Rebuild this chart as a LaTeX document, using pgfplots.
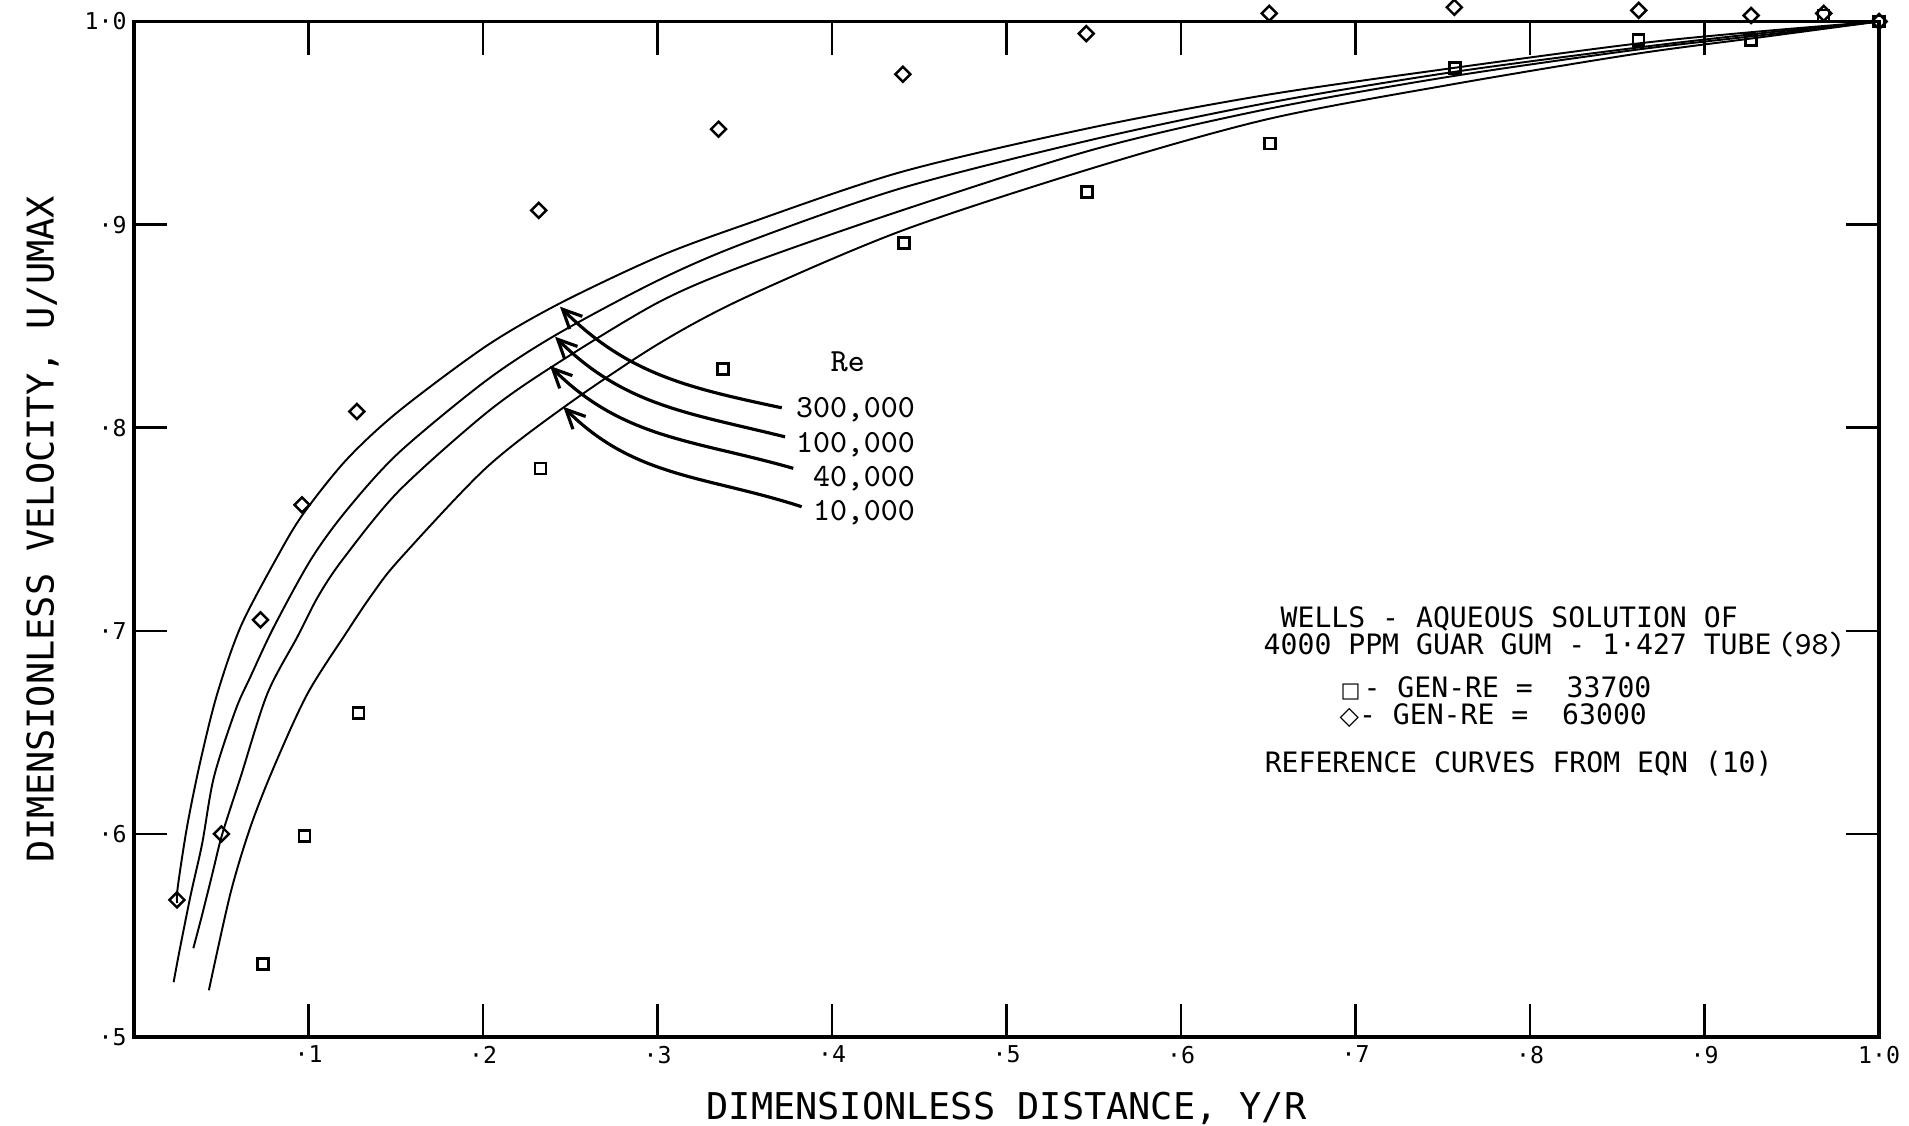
\documentclass[border=0pt]{standalone}
\usepackage{fontspec}
\setmainfont{DejaVu Sans Mono}
\newfontfamily\symfont{DejaVu Sans}
\usepackage{pgfplots}
\pgfplotsset{compat=1.18}
\usetikzlibrary{arrows.meta}
\begin{document}
\begin{tikzpicture}
\begin{axis}[
  at={(0,0)}, anchor=south west,
  scale only axis, width=174.5mm, height=101.55mm,
  xmin=0, xmax=1, ymin=0.5, ymax=1,
  clip=false,
  axis line style={line width=0.9pt},
  major tick length=3.3mm,
  tick style={line width=0.7pt, black},
  xtick={0.1,0.2,0.3,0.4,0.5,0.6,0.7,0.8,0.9,1.0},
  xticklabels={·1,·2,·3,·4,·5,·6,·7,·8,·9,1·0},
  ytick={0.5,0.6,0.7,0.8,0.9,1.0},
  yticklabels={·5,·6,·7,·8,·9,1·0},
  tick label style={font=\fontsize{6.6}{7}\selectfont},
  xticklabel style={yshift=0.35mm},
  yticklabel style={xshift=0.5mm},
  xlabel={DIMENSIONLESS DISTANCE, Y/R},
  ylabel={DIMENSIONLESS VELOCITY, U/UMAX},
  label style={font=\fontsize{10.5}{12}\selectfont},
  xlabel style={at={(axis description cs:0.5,-0.0817)}, anchor=base},
  ylabel style={at={(axis description cs:-0.046,0.5)}, anchor=base},
]
% reference curves (Re = 300,000 / 100,000 / 40,000 / 10,000)
\addplot[black, line width=0.55pt, smooth] coordinates {
(0.0247,0.566) (0.0251,0.574) (0.0305,0.604) (0.0381,0.636) (0.0477,0.669) (0.0611,0.702)
(0.0812,0.735) (0.0965,0.757) (0.1215,0.784) (0.1515,0.808) (0.2015,0.840) (0.2435,0.861)
(0.300,0.884) (0.350,0.900) (0.440,0.926) (0.550,0.948) (0.650,0.964) (0.755,0.977)
(0.860,0.989) (0.930,0.995) (1.000,1.000)};
\addplot[black, line width=0.55pt, smooth] coordinates {
(0.0227,0.527) (0.0262,0.543) (0.0325,0.570) (0.0391,0.5954) (0.0458,0.628) (0.0582,0.661)
(0.0668,0.6775) (0.0802,0.702) (0.1013,0.735) (0.1215,0.759) (0.1515,0.7875) (0.2015,0.823)
(0.242,0.8458) (0.300,0.8724) (0.350,0.891) (0.440,0.918) (0.550,0.942) (0.650,0.960)
(0.755,0.975) (0.860,0.987) (0.930,0.994) (1.000,1.000)};
\addplot[black, line width=0.55pt, smooth] coordinates {
(0.0340,0.5437) (0.0390,0.560) (0.0448,0.580) (0.0506,0.600) (0.0611,0.628) (0.0764,0.669)
(0.0936,0.697) (0.1055,0.7169) (0.1195,0.735) (0.1515,0.7686) (0.2015,0.807) (0.2395,0.830)
(0.300,0.8615) (0.350,0.880) (0.440,0.907) (0.550,0.937) (0.650,0.957) (0.755,0.973)
(0.860,0.986) (0.930,0.993) (1.000,1.000)};
\addplot[black, line width=0.55pt, smooth] coordinates {
(0.0429,0.523) (0.0553,0.5708) (0.0668,0.6036) (0.0802,0.633) (0.0994,0.669) (0.1224,0.700)
(0.1365,0.718) (0.152,0.735) (0.2015,0.780) (0.247,0.8105) (0.300,0.841) (0.350,0.864)
(0.440,0.897) (0.550,0.928) (0.650,0.952) (0.755,0.969) (0.860,0.984) (0.930,0.992)
(1.000,1.000)};
% GEN-RE = 33700 (squares)
\addplot[black, only marks, mark=square, mark size=0.55mm, mark options={line width=0.7pt}] coordinates {
(0.0740,0.536) (0.0976,0.599) (0.1286,0.6595) (0.2330,0.780) (0.3375,0.829) (0.4413,0.891)
(0.5462,0.916) (0.6511,0.940) (0.7569,0.977) (0.8623,0.991) (0.9267,0.991) (0.9683,1.003) (1.0,1.0)};
% GEN-RE = 63000 (diamonds)
\addplot[black, only marks, mark=square, mark size=0.53mm, mark options={rotate=45, line width=0.7pt}] coordinates {
(0.0246,0.5675) (0.0501,0.600) (0.0725,0.7054) (0.0963,0.762) (0.1277,0.808) (0.2319,0.907)
(0.335,0.947) (0.4406,0.974) (0.5457,0.994) (0.6506,1.004) (0.7566,1.007) (0.8623,1.0055)
(0.9267,1.003) (0.9683,1.004) (1.0,1.0)};
% annotations
\node[anchor=base west, inner sep=0, font=\ttfamily\fontsize{9.2}{10}\selectfont] at (axis cs:0.3989,0.8276) {Re};
\node[anchor=base east, inner sep=0, font=\ttfamily\fontsize{9.2}{10}\selectfont] at (axis cs:0.4479,0.8051) {300,000};
\node[anchor=base east, inner sep=0, font=\ttfamily\fontsize{9.2}{10}\selectfont] at (axis cs:0.4479,0.7879) {100,000};
\node[anchor=base east, inner sep=0, font=\ttfamily\fontsize{9.2}{10}\selectfont] at (axis cs:0.4479,0.7710) {40,000};
\node[anchor=base east, inner sep=0, font=\ttfamily\fontsize{9.2}{10}\selectfont] at (axis cs:0.4479,0.7542) {10,000};
\draw[line width=0.9pt, -{Straight Barb[length=1.9mm,width=1.8mm]}] (axis cs:0.3712,0.8098) to[out=168,in=-45] (axis cs:0.2441,0.8596);
\draw[line width=0.9pt, -{Straight Barb[length=1.9mm,width=1.8mm]}] (axis cs:0.3731,0.7955) to[out=166,in=-45] (axis cs:0.2413,0.8448);
\draw[line width=0.9pt, -{Straight Barb[length=1.9mm,width=1.8mm]}] (axis cs:0.3778,0.7800) to[out=164,in=-45] (axis cs:0.2384,0.8304);
\draw[line width=0.9pt, -{Straight Barb[length=1.9mm,width=1.8mm]}] (axis cs:0.3826,0.7611) to[out=162,in=-45] (axis cs:0.2460,0.8103);
% legend block
\node[anchor=base west, inner sep=0, font=\fontsize{8}{9}\selectfont] at (axis cs:0.6567,0.7015) {WELLS - AQUEOUS SOLUTION OF};
\node[anchor=base west, inner sep=0, font=\fontsize{8}{9}\selectfont] at (axis cs:0.6470,0.6881) {4000 PPM GUAR GUM - 1·427 TUBE\hspace{0.6mm}{\ttfamily\fontsize{9.2}{9}\selectfont (98)}};
\node[anchor=base west, inner sep=0, font=\fontsize{8}{9}\selectfont] at (axis cs:0.6911,0.6670) {{\symfont\fontsize{6}{6}\selectfont □}\hspace{0.3mm}- GEN-RE = \ 33700};
\node[anchor=base west, inner sep=0, font=\fontsize{8}{9}\selectfont] at (axis cs:0.6905,0.6540) {{\symfont\fontsize{7.2}{7}\selectfont ◇}- GEN-RE = \ 63000};
\node[anchor=base west, inner sep=0, font=\fontsize{8}{9}\selectfont] at (axis cs:0.6476,0.6300) {REFERENCE CURVES FROM EQN (10)};
\end{axis}
\pgfresetboundingbox
\path (-13.4mm,-8.8mm) rectangle (177.5mm,103.7mm);
\end{tikzpicture}
\end{document}
